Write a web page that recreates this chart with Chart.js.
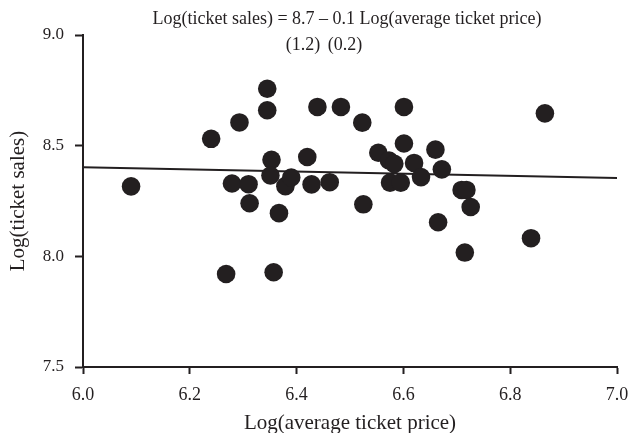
<!DOCTYPE html>
<html>
<head>
<meta charset="utf-8">
<script src="https://cdn.jsdelivr.net/npm/chart.js@4/dist/chart.umd.min.js"></script>
<style>
  html, body { margin: 0; padding: 0; background: #ffffff; }
  #wrap { width: 629px; height: 433px; }
</style>
</head>
<body>
<div id="wrap"><canvas id="chart" width="629" height="433"></canvas></div>
<script>
// Log(average ticket price) and Log(ticket sales) for each observation
const logPrice = [
  6.090, 6.240, 6.268, 6.279, 6.293, 6.310, 6.312, 6.345, 6.345, 6.353,
  6.351, 6.357, 6.367, 6.379, 6.390, 6.420, 6.428, 6.439, 6.462, 6.483,
  6.523, 6.525, 6.553, 6.573, 6.575, 6.583, 6.595, 6.601, 6.601, 6.620,
  6.633, 6.660, 6.665, 6.672, 6.709, 6.718, 6.715, 6.726, 6.839, 6.865
];
const logSales = [
  8.316, 8.531, 7.920, 8.329, 8.605, 8.326, 8.240, 8.757, 8.660, 8.436,
  8.365, 7.928, 8.195, 8.317, 8.356, 8.449, 8.325, 8.675, 8.335, 8.675,
  8.604, 8.235, 8.468, 8.433, 8.333, 8.418, 8.333, 8.510, 8.675, 8.422,
  8.358, 8.482, 8.154, 8.393, 8.300, 8.300, 8.017, 8.223, 8.082, 8.646
];

// Fitted line, end points
const fitX = [6.0, 7.0];
const fitY = [8.402, 8.354];

// Axis ticks
const xTicks = [6.0, 6.2, 6.4, 6.6, 6.8, 7.0];
const yTicks = [7.5, 8.0, 8.5, 9.0];

// Regression equation and standard errors
const equationText = 'Log(ticket sales) = 8.7 \u2013 0.1 Log(average ticket price)';
const stdErrors = ['(1.2)', '(0.2)'];

const INK = '#231f20';
const SERIF = '"Liberation Serif", "Times New Roman", serif';

const scatterPoints = logPrice.map((x, i) => ({ x: x, y: logSales[i] }));
const fitPoints = fitX.map((x, i) => ({ x: x, y: fitY[i] }));

const equationPlugin = {
  id: 'equation',
  afterDraw(chart) {
    const ctx = chart.ctx;
    ctx.save();
    ctx.fillStyle = INK;
    ctx.font = '18px ' + SERIF;
    ctx.textAlign = 'center';
    ctx.textBaseline = 'middle';
    ctx.fillText(equationText, 347, 19);
    ctx.fillText(stdErrors[0], 303, 45);
    ctx.fillText(stdErrors[1], 345, 45);
    ctx.restore();
  }
};

new Chart(document.getElementById('chart'), {
  type: 'scatter',
  data: {
    datasets: [
      {
        type: 'line',
        data: fitPoints,
        borderColor: INK,
        borderWidth: 2,
        pointRadius: 0,
        fill: false,
        order: 2
      },
      {
        data: scatterPoints,
        backgroundColor: INK,
        borderWidth: 0,
        pointRadius: 9.3,
        pointHoverRadius: 9.3,
        order: 1
      }
    ]
  },
  options: {
    responsive: false,
    animation: false,
    devicePixelRatio: 1,
    layout: { padding: { top: 35, right: 12, bottom: 0, left: 0 } },
    plugins: {
      legend: { display: false },
      tooltip: { enabled: false }
    },
    scales: {
      x: {
        type: 'linear',
        min: 6.0,
        max: 7.0,
        afterBuildTicks: s => { s.ticks = xTicks.map(v => ({ value: v })); },
        afterFit: s => { s.height = 66; s.paddingLeft = 0; s.paddingRight = 0; },
        border: { display: true, color: INK, width: 2 },
        grid: { drawOnChartArea: false, drawTicks: true, tickLength: 7, tickWidth: 2, tickColor: INK },
        ticks: {
          color: INK,
          padding: 10,
          maxRotation: 0,
          font: { family: SERIF, size: 18 },
          callback: v => Number(v).toFixed(1)
        },
        title: {
          display: true,
          text: 'Log(average ticket price)',
          color: INK,
          font: { family: SERIF, size: 21 },
          padding: { top: 0, bottom: -3 }
        }
      },
      y: {
        type: 'linear',
        min: 7.5,
        max: 9.0,
        afterBuildTicks: s => { s.ticks = yTicks.map(v => ({ value: v })); },
        afterFit: s => { s.width = 83; s.paddingTop = 0; s.paddingBottom = 0; },
        border: { display: true, color: INK, width: 2 },
        grid: { drawOnChartArea: false, drawTicks: true, tickLength: 8, tickWidth: 2, tickColor: INK },
        ticks: {
          color: INK,
          padding: 11,
          font: { family: SERIF, size: 17 },
          callback: v => Number(v).toFixed(1)
        },
        title: {
          display: true,
          text: 'Log(ticket sales)',
          color: INK,
          font: { family: SERIF, size: 21 },
          padding: { top: 6, bottom: 0 }
        }
      }
    }
  },
  plugins: [equationPlugin]
});
</script>
</body>
</html>
